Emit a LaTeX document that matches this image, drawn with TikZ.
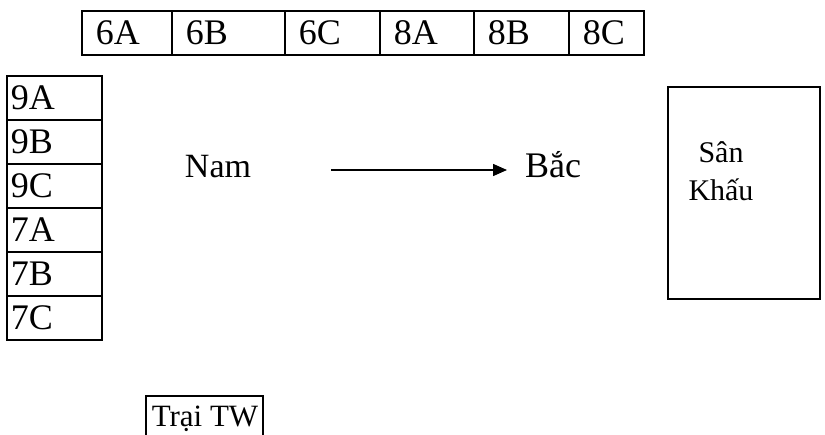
\documentclass[tikz,border=0pt]{standalone}
\usepackage{fontspec}
\setmainfont{Liberation Serif}
\usetikzlibrary{arrows.meta}
\begin{document}
\begin{tikzpicture}[x=1pt,y=-1pt,
  every node/.style={font=\fontsize{36}{38}\selectfont},
  topcell/.style={draw, line width=1.5pt, rectangle, anchor=north west, minimum height=44pt, inner xsep=14pt, inner ysep=0pt, align=left},
  leftcell/.style={draw, line width=1.5pt, rectangle, anchor=north west, minimum width=95pt, text width=87pt, minimum height=44pt, inner xsep=4pt, inner ysep=0pt, align=left},
  frame/.style={draw, line width=1.5pt, rectangle, anchor=north west, inner sep=0pt},
  lbl/.style={inner sep=0pt, anchor=base}
]
\useasboundingbox (0,0) rectangle (825,434);
% top row
\node[topcell, minimum width=90pt, text width=62pt] (c6A) at (81,10) {6A};
\node[topcell, minimum width=113pt, text width=85pt] (c6B) at (171,10) {6B};
\node[topcell, minimum width=95pt, text width=67pt] (c6C) at (284,10) {6C};
\node[topcell, minimum width=94pt, text width=66pt] (c8A) at (379,10) {8A};
\node[topcell, minimum width=95pt, text width=67pt] (c8B) at (473,10) {8B};
\node[topcell, minimum width=75pt, text width=47pt] (c8C) at (568,10) {8C};
% left column
\node[leftcell] (c9A) at (6,75) {9A};
\node[leftcell] (c9B) at (6,119) {9B};
\node[leftcell] (c9C) at (6,163) {9C};
\node[leftcell] (c7A) at (6,207) {7A};
\node[leftcell] (c7B) at (6,251) {7B};
\node[leftcell] (c7C) at (6,295) {7C};
% stage
\node[frame, minimum width=152pt, minimum height=212pt] (stage) at (667,86) {};
\node[lbl, align=center, font=\fontsize{30}{38}\selectfont] (stagetext) at (721,200) {Sân\\Khấu};
% direction
\node[lbl, font=\fontsize{34}{36}\selectfont] (nam) at (218,177) {Nam};
\node[lbl] (bac) at (553,177) {Bắc};
\coordinate (arrS) at (331,170);
\coordinate (arrE) at (507,170);
\draw[line width=1.5pt, -{Triangle[length=14pt,width=12pt]}] (arrS) -- (arrE);
% camp
\node[frame, minimum width=117pt, minimum height=60pt] (trai) at (145,395) {};
\node[lbl, font=\fontsize{31}{33}\selectfont] (traitext) at (205,426) {Trại TW};
\end{tikzpicture}
\end{document}
